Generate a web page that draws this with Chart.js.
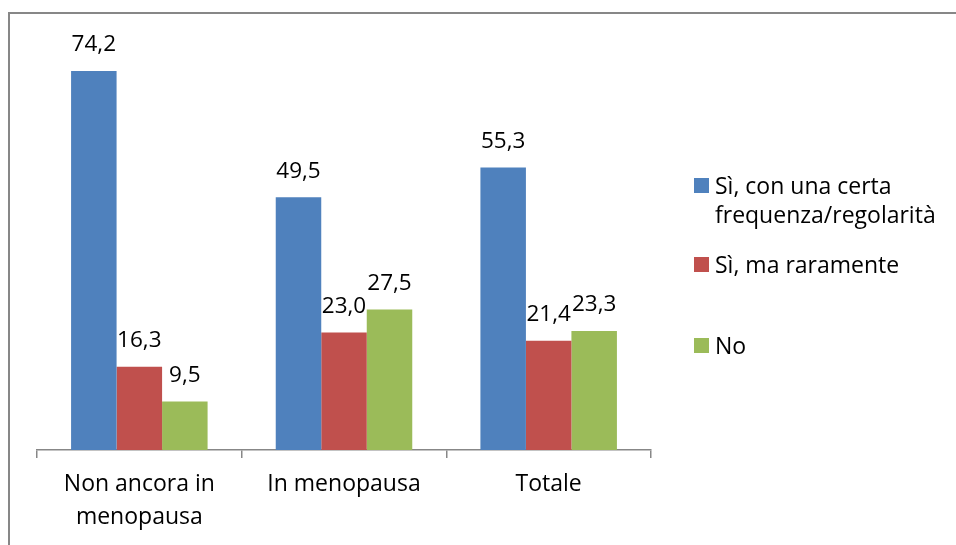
<!DOCTYPE html>
<html>
<head>
<meta charset="utf-8">
<script src="https://cdn.jsdelivr.net/npm/chart.js@4.4.1/dist/chart.umd.min.js"></script>
<style>
  html, body { margin: 0; padding: 0; background: #fff; width: 956px; height: 545px; overflow: hidden; }
  #frame { position: absolute; left: 8px; top: 12px; width: 1000px; height: 600px; border-top: 2px solid #878787; border-left: 2px solid #878787; }
  #wrap { position: absolute; left: 0; top: 0; width: 956px; height: 545px; }
  #legend { position: absolute; left: 694px; top: 0; font-family: "Open Sans", Lato, sans-serif; font-size: 23px; color: #000; }
  .item { position: absolute; left: 0; white-space: nowrap; }
  .box { position: absolute; left: 0; width: 15px; height: 15px; }
  .txt { position: absolute; left: 21px; line-height: 29px; }
</style>
</head>
<body>
<div id="frame"></div>
<div id="wrap"><canvas id="c" width="956" height="545"></canvas></div>
<div id="legend"></div>
<script>
const categories = [["Non ancora in", "menopausa"], "In menopausa", "Totale"];
const seriesNames = [["Sì, con una certa", "frequenza/regolarità"], ["Sì, ma raramente"], ["No"]];
const seriesColors = ["#4F81BD", "#C0504D", "#9BBB59"];
const valuesFrequent = [74.2, 49.5, 55.3];
const valuesRarely = [16.3, 23.0, 21.4];
const valuesNo = [9.5, 27.5, 23.3];
const legendTops = [171, 250, 331];

const FONT = '"Open Sans", Lato, sans-serif';

const valueLabels = {
  id: 'valueLabels',
  afterDatasetsDraw(chart) {
    const ctx = chart.ctx;
    ctx.save();
    ctx.font = '22.5px ' + FONT;
    ctx.fillStyle = '#000';
    ctx.textAlign = 'center';
    ctx.textBaseline = 'middle';
    chart.data.datasets.forEach((ds, i) => {
      const meta = chart.getDatasetMeta(i);
      meta.data.forEach((bar, j) => {
        const t = ds.data[j].toFixed(1).replace('.', ',');
        ctx.fillText(t, bar.x, bar.y - 26);
      });
    });
    ctx.restore();
  }
};

const datasets = [valuesFrequent, valuesRarely, valuesNo].map((vals, i) => ({
  label: seriesNames[i].join(' '),
  data: vals,
  backgroundColor: seriesColors[i],
  borderWidth: 0,
  categoryPercentage: 0.667,
  barPercentage: 1.0
}));

new Chart(document.getElementById('c'), {
  type: 'bar',
  data: { labels: categories, datasets },
  options: {
    responsive: false,
    animation: false,
    layout: { padding: { left: 37, right: 305, top: 41.4, bottom: 0 } },
    plugins: { legend: { display: false }, tooltip: { enabled: false } },
    scales: {
      x: {
        grid: { display: true, offset: true, drawOnChartArea: false, drawTicks: true, tickLength: 8, color: '#878787', lineWidth: 1.5 },
        border: { display: true, color: '#878787', width: 1.5 },
        ticks: { color: '#000', font: { family: FONT, size: 23, lineHeight: 1.435 }, padding: 10, maxRotation: 0, autoSkip: false },
        afterFit(scale) { scale.height = 95; }
      },
      y: { display: false, min: 0, max: 80 }
    }
  },
  plugins: [valueLabels]
});

const legend = document.getElementById('legend');
seriesNames.forEach((name, i) => {
  const item = document.createElement('div');
  item.className = 'item';
  item.style.top = legendTops[i] + 'px';
  const box = document.createElement('div');
  box.className = 'box';
  box.style.background = seriesColors[i];
  box.style.top = '7px';
  const txt = document.createElement('div');
  txt.className = 'txt';
  txt.innerHTML = name.join('<br>');
  item.appendChild(box);
  item.appendChild(txt);
  legend.appendChild(item);
});
</script>
</body>
</html>
